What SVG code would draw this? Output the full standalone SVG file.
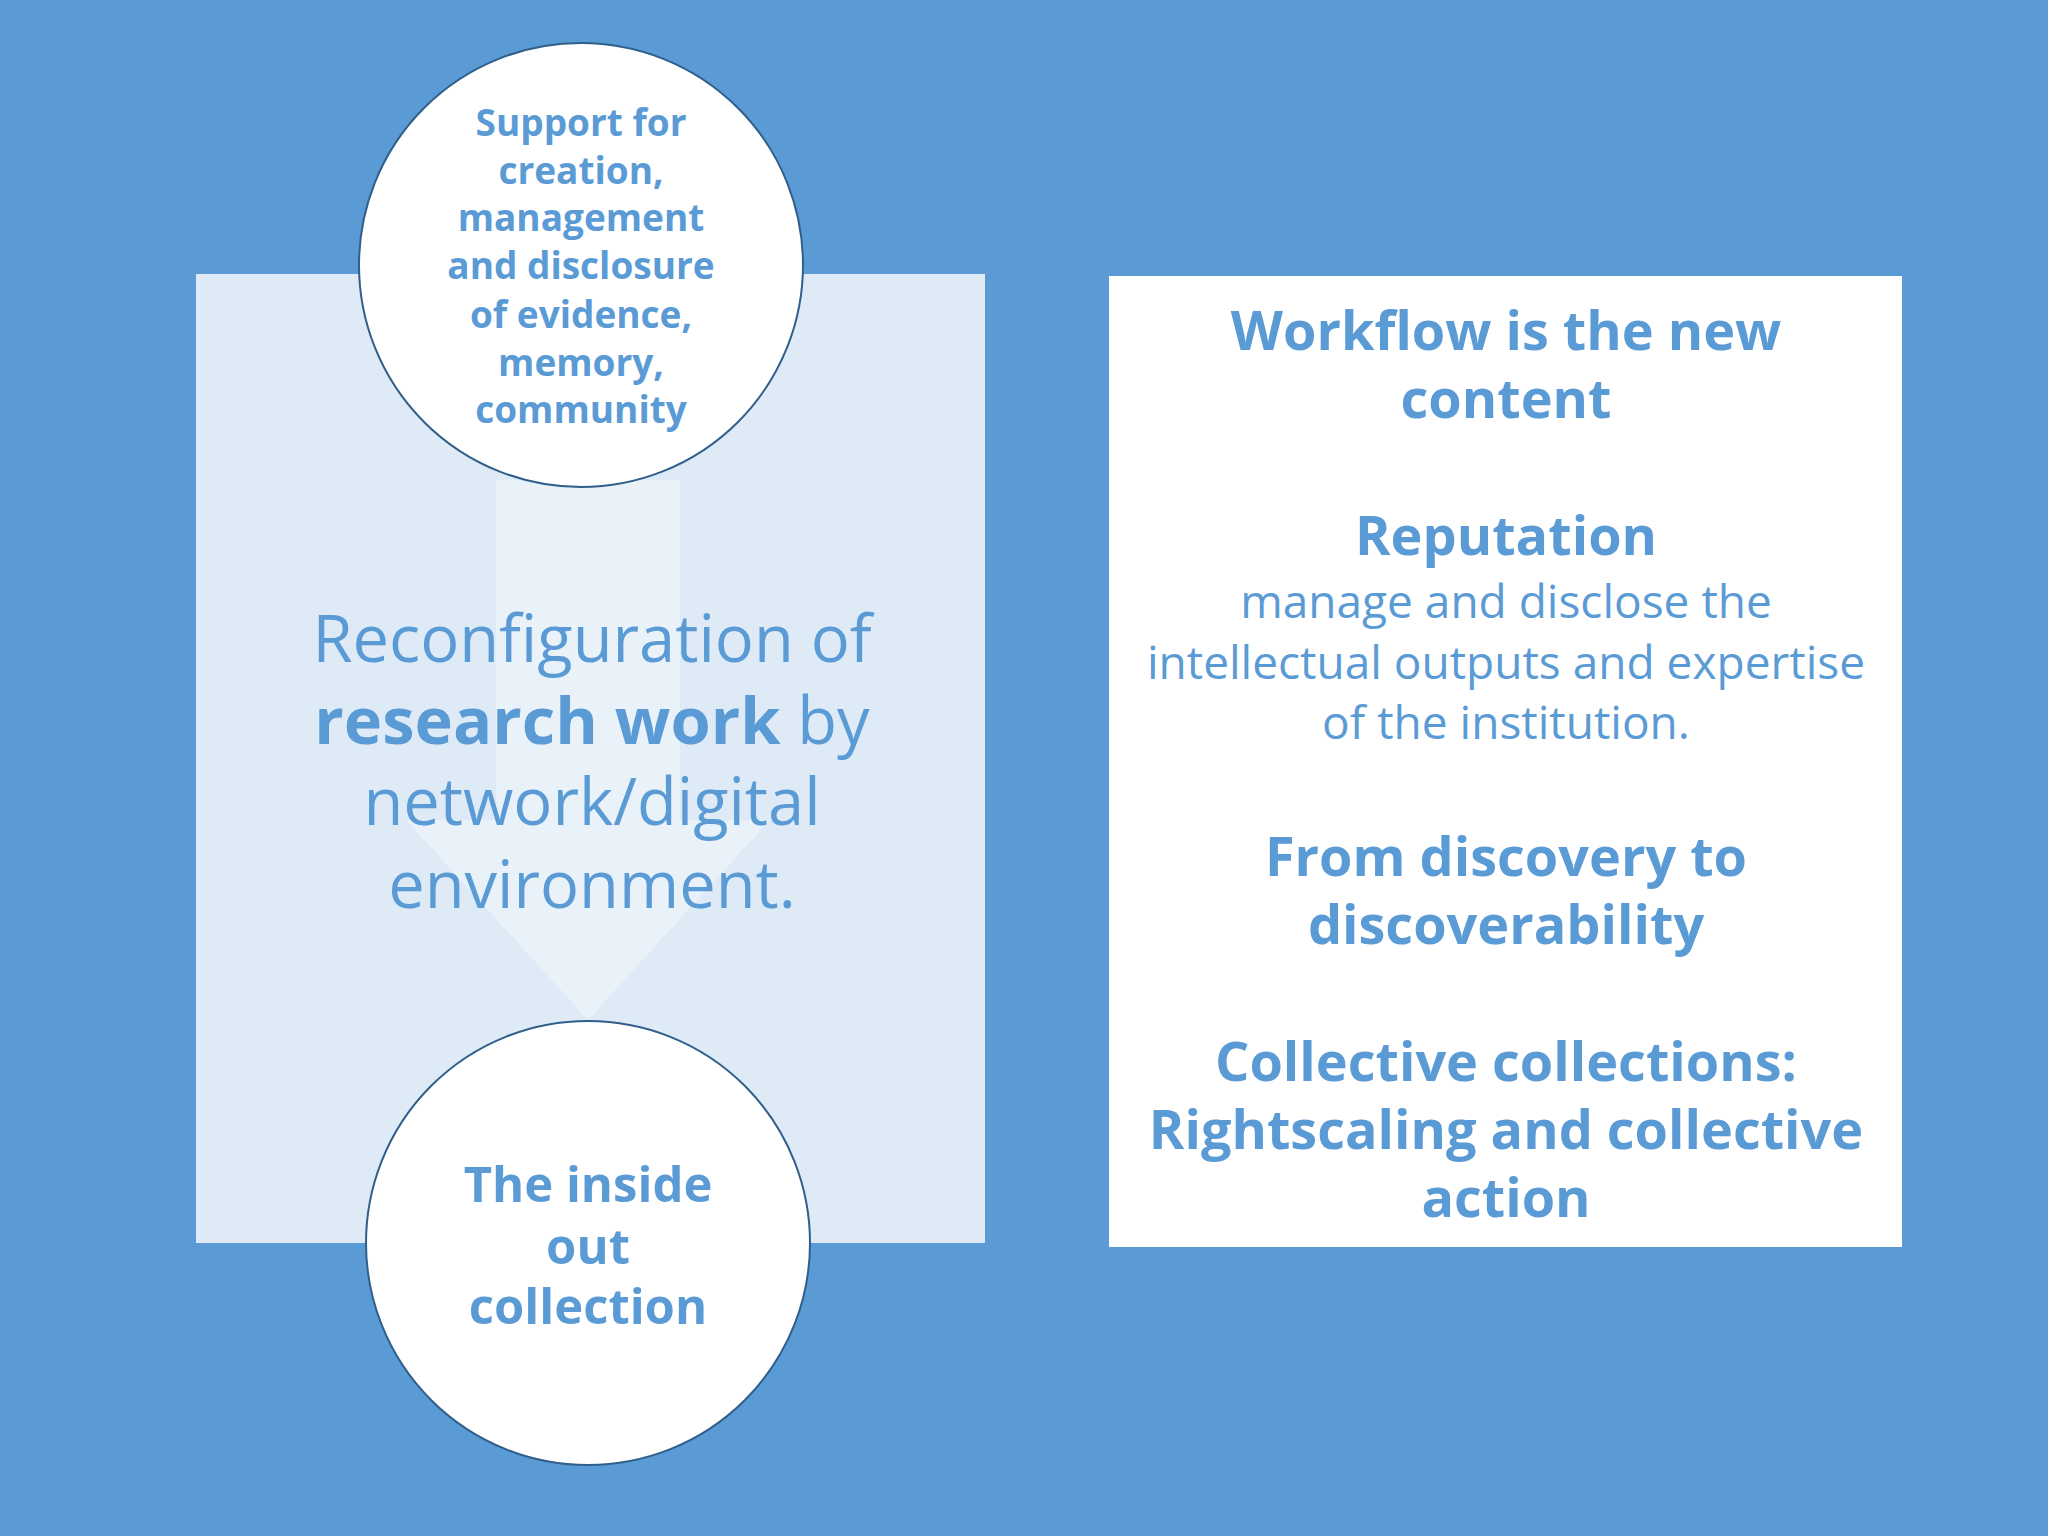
<svg xmlns="http://www.w3.org/2000/svg" width="2048" height="1536" viewBox="0 0 2048 1536">
<style>
.t{font-family:"Open Sans","Noto Sans",sans-serif;fill:#5B9BD5;text-anchor:middle}
.b{font-weight:bold}
.c{fill:#fff;stroke:#2F5F8A;stroke-width:2}
</style>
<rect width="2048" height="1536" fill="#5B9BD5"/>
<g id="panel">
<rect x="196" y="274" width="789" height="969" fill="#DEEAF6"/>
<polygon points="496,480 680,480 680,820 770,820 588,1020 406,820 496,820" fill="#fff" opacity="0.35"/>
<text class="t" font-size="65" x="592" y="662">Reconfiguration of</text>
<text class="t" font-size="65" x="592" y="744"><tspan class="b">research work</tspan> by</text>
<text class="t" font-size="65" x="592" y="825">network/digital</text>
<text class="t" font-size="65" x="592" y="908">environment.</text>
</g>
<g id="top-circle">
<circle class="c" cx="581" cy="265" r="222"/>
<g class="t b" font-size="37">
<text x="581" y="136">Support for</text>
<text x="581" y="184">creation,</text>
<text x="581" y="231">management</text>
<text x="581" y="279">and disclosure</text>
<text x="581" y="328">of evidence,</text>
<text x="581" y="376">memory,</text>
<text x="581" y="423">community</text>
</g>
</g>
<g id="bottom-circle">
<circle class="c" cx="588" cy="1243" r="222"/>
<g class="t b" font-size="49">
<text x="588" y="1202">The inside</text>
<text x="588" y="1264">out</text>
<text x="588" y="1324">collection</text>
</g>
</g>
<g id="right-box">
<rect x="1109" y="276" width="793" height="971" fill="#fff"/>
<g class="t b" font-size="54">
<text x="1506" y="350">Workflow is the new</text>
<text x="1506" y="418">content</text>
<text x="1506" y="555">Reputation</text>
<text x="1506" y="876">From discovery to</text>
<text x="1506" y="944">discoverability</text>
<text x="1506" y="1081">Collective collections:</text>
<text x="1506" y="1149">Rightscaling and collective</text>
<text x="1506" y="1217">action</text>
</g>
<g class="t" font-size="46">
<text x="1506" y="618">manage and disclose the</text>
<text x="1506" y="679">intellectual outputs and expertise</text>
<text x="1506" y="739">of the institution.</text>
</g>
</g>
<g id="connectors"/>
</svg>
